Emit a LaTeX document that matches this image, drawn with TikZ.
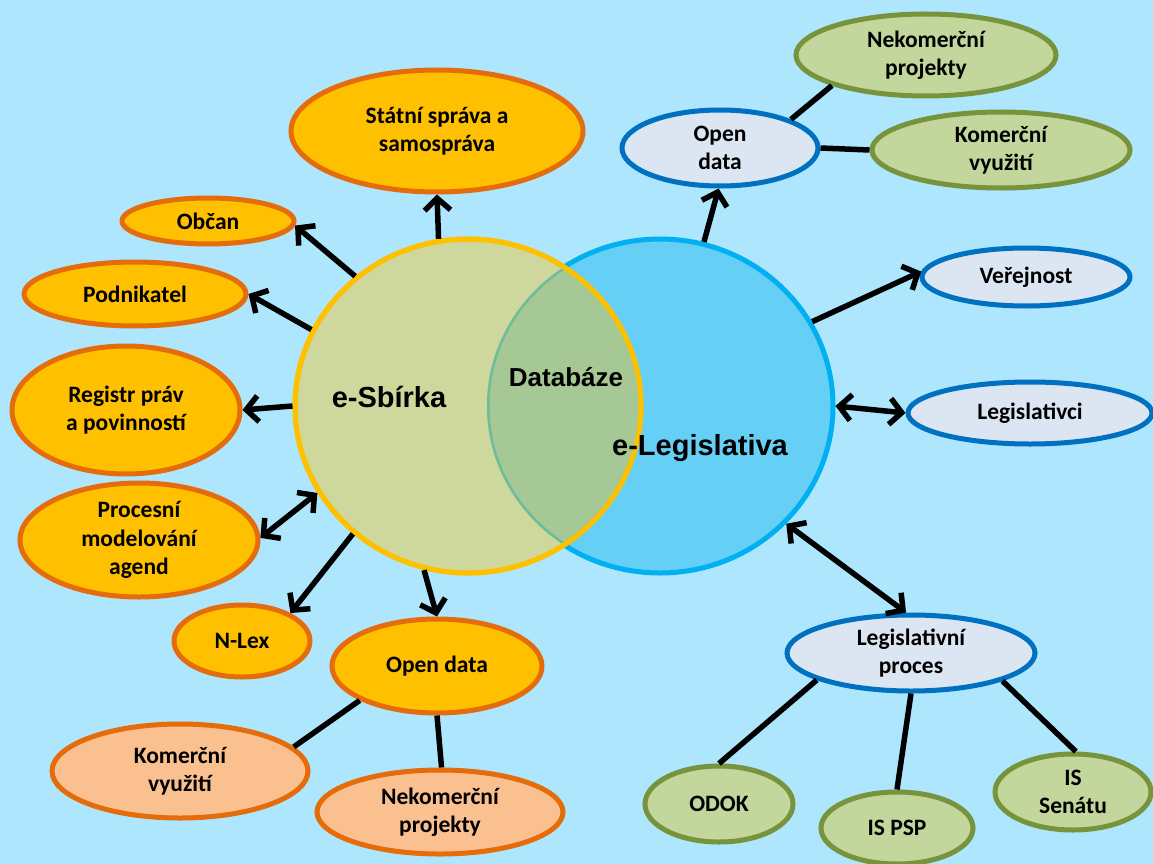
\documentclass[tikz,border=0pt]{standalone}
\usepackage{fontspec}
\setmainfont{Carlito}
\newfontfamily\arialf{Liberation Sans}
\usetikzlibrary{shapes.geometric,arrows.meta}
\definecolor{bg}{HTML}{AEE6FD}
\definecolor{olivef}{HTML}{CED79C}
\definecolor{yelb}{HTML}{FFC000}
\definecolor{skyf}{HTML}{66CFF6}
\definecolor{skyb}{HTML}{00B0F0}
\definecolor{interf}{HTML}{A6C894}
\definecolor{interb}{HTML}{6DBD9A}
\definecolor{orF}{HTML}{FFC000}
\definecolor{orB}{HTML}{E46C0A}
\definecolor{lorF}{HTML}{FAC090}
\definecolor{blF}{HTML}{DCE6F2}
\definecolor{blB}{HTML}{0070C0}
\definecolor{grF}{HTML}{C3D69B}
\definecolor{grB}{HTML}{77933C}
\tikzset{
  base/.style={ellipse, line width=5pt, inner sep=0pt, align=center,
    font=\bfseries\fontsize{23.5}{28.5}\selectfont, text=black},
  orng/.style={base, draw=orB, fill=orF},
  lorng/.style={base, draw=orB, fill=lorF},
  blu/.style={base, draw=blB, fill=blF},
  grn/.style={base, draw=grB, fill=grF},
  conn/.style={line width=5.5pt, black},
  arr/.style={conn, -{Straight Barb[length=12pt,width=26pt]}},
  darr/.style={conn, {Straight Barb[length=12pt,width=26pt]}-{Straight Barb[length=12pt,width=26pt]}},
  bigtxt/.style={font=\arialf\bfseries\fontsize{29}{33}\selectfont, inner sep=0pt},
}
\begin{document}
\begin{tikzpicture}[x=1pt,y=-1pt]
\fill[bg] (0,0) rectangle (1153,864);
\useasboundingbox (0,0) rectangle (1153,864);
% circles
\node[ellipse, draw=skyb, fill=skyf, line width=5pt, minimum width=346pt, minimum height=334pt, inner sep=0pt] (el) at (660,406) {};
\node[ellipse, draw=yelb, fill=olivef, line width=5pt, minimum width=346pt, minimum height=334pt, inner sep=0pt] (esb) at (468,406) {};
\begin{scope}
  \clip (660,406) ellipse [x radius=173, y radius=167];
  \fill[interf] (468,406) ellipse [x radius=173, y radius=167];
  \begin{scope}
    \clip (468,406) ellipse [x radius=173, y radius=167];
    \draw[interb, line width=5pt] (660,406) ellipse [x radius=173, y radius=167];
  \end{scope}
\end{scope}
\draw[yelb, line width=5pt] (468,406) ellipse [x radius=173, y radius=167];
\node[bigtxt] (tS) at (389,397) {e-Sbírka};
\node[bigtxt, font=\arialf\bfseries\fontsize{26}{30}\selectfont] (tD) at (566,377) {Databáze};
\node[bigtxt] (tL) at (700,448) {e-Legislativa};
% left nodes
\node[orng, minimum width=292pt, minimum height=122pt] (ss) at (437,131) {Státní správa a\\samospráva};
\node[orng, minimum width=172pt, minimum height=46pt] (obc) at (208,221) {Občan};
\node[orng, minimum width=222pt, minimum height=64pt] (pod) at (135,294) {Podnikatel};
\node[orng, minimum width=228pt, minimum height=128pt] (reg) at (126,410) {Registr práv\\a povinností};
\node[orng, minimum width=238pt, minimum height=114pt] (proc) at (139,540) {Procesní\\modelování\\agend};
\node[orng, minimum width=136pt, minimum height=72pt] (nlex) at (242,641) {N-Lex};
\node[orng, minimum width=210pt, minimum height=94pt] (odL) at (437,666) {Open data};
\node[lorng, minimum width=256pt, minimum height=94pt] (komL) at (180,771) {Komerční\\využití};
\node[lorng, minimum width=246pt, minimum height=84pt] (nekL) at (440,812) {Nekomerční\\projekty};
% right nodes
\node[blu, minimum width=196pt, minimum height=76pt] (odR) at (720,148) {Open\\data};
\node[blu, minimum width=208pt, minimum height=58pt] (ver) at (1026,277) {Veřejnost};
\node[blu, minimum width=244pt, minimum height=62pt] (legi) at (1030,413) {Legislativci};
\node[blu, minimum width=248pt, minimum height=76pt] (lp) at (911,653) {Legislativní\\proces};
\node[grn, minimum width=260pt, minimum height=82pt] (nekR) at (926,55) {Nekomerční\\projekty};
\node[grn, minimum width=258pt, minimum height=76pt] (komR) at (1001,150) {Komerční\\využití};
\node[grn, minimum width=148pt, minimum height=76pt] (odok) at (719,804) {ODOK};
\node[grn, minimum width=152pt, minimum height=72pt] (psp) at (897,828) {IS PSP};
\node[grn, minimum width=156pt, minimum height=76pt] (sen) at (1073,792) {IS\\Senátu};
% connectors
\draw[arr] (esb.100.5) -- (ss.270);
\draw[arr] (esb.131) -- (obc.357);
\draw[arr] (esb.154) -- (pod.0);
\draw[arr] (esb.180) -- (reg.0);
\draw[darr] (esb.210) -- (proc.1);
\draw[arr] (esb.228) -- (nlex.30);
\draw[arr] (esb.255) -- (odL.90);
\draw[conn] (odL.204) -- (komL.12);
\draw[conn] (odL.270) -- (nekL.88);
\draw[arr] (el.75) -- (odR.268);
\draw[conn] (odR.22) -- (nekR.198);
\draw[conn] (odR.0) -- (komR.180);
\draw[arr] (el.29) -- (ver.177);
\draw[darr] (el.0) -- (legi.180);
\draw[darr] (el.317) -- (lp.97);
\draw[conn] (lp.196) -- (odok.90);
\draw[conn] (lp.270) -- (psp.90);
\draw[conn] (lp.343) -- (sen.86);
\end{tikzpicture}
\end{document}
